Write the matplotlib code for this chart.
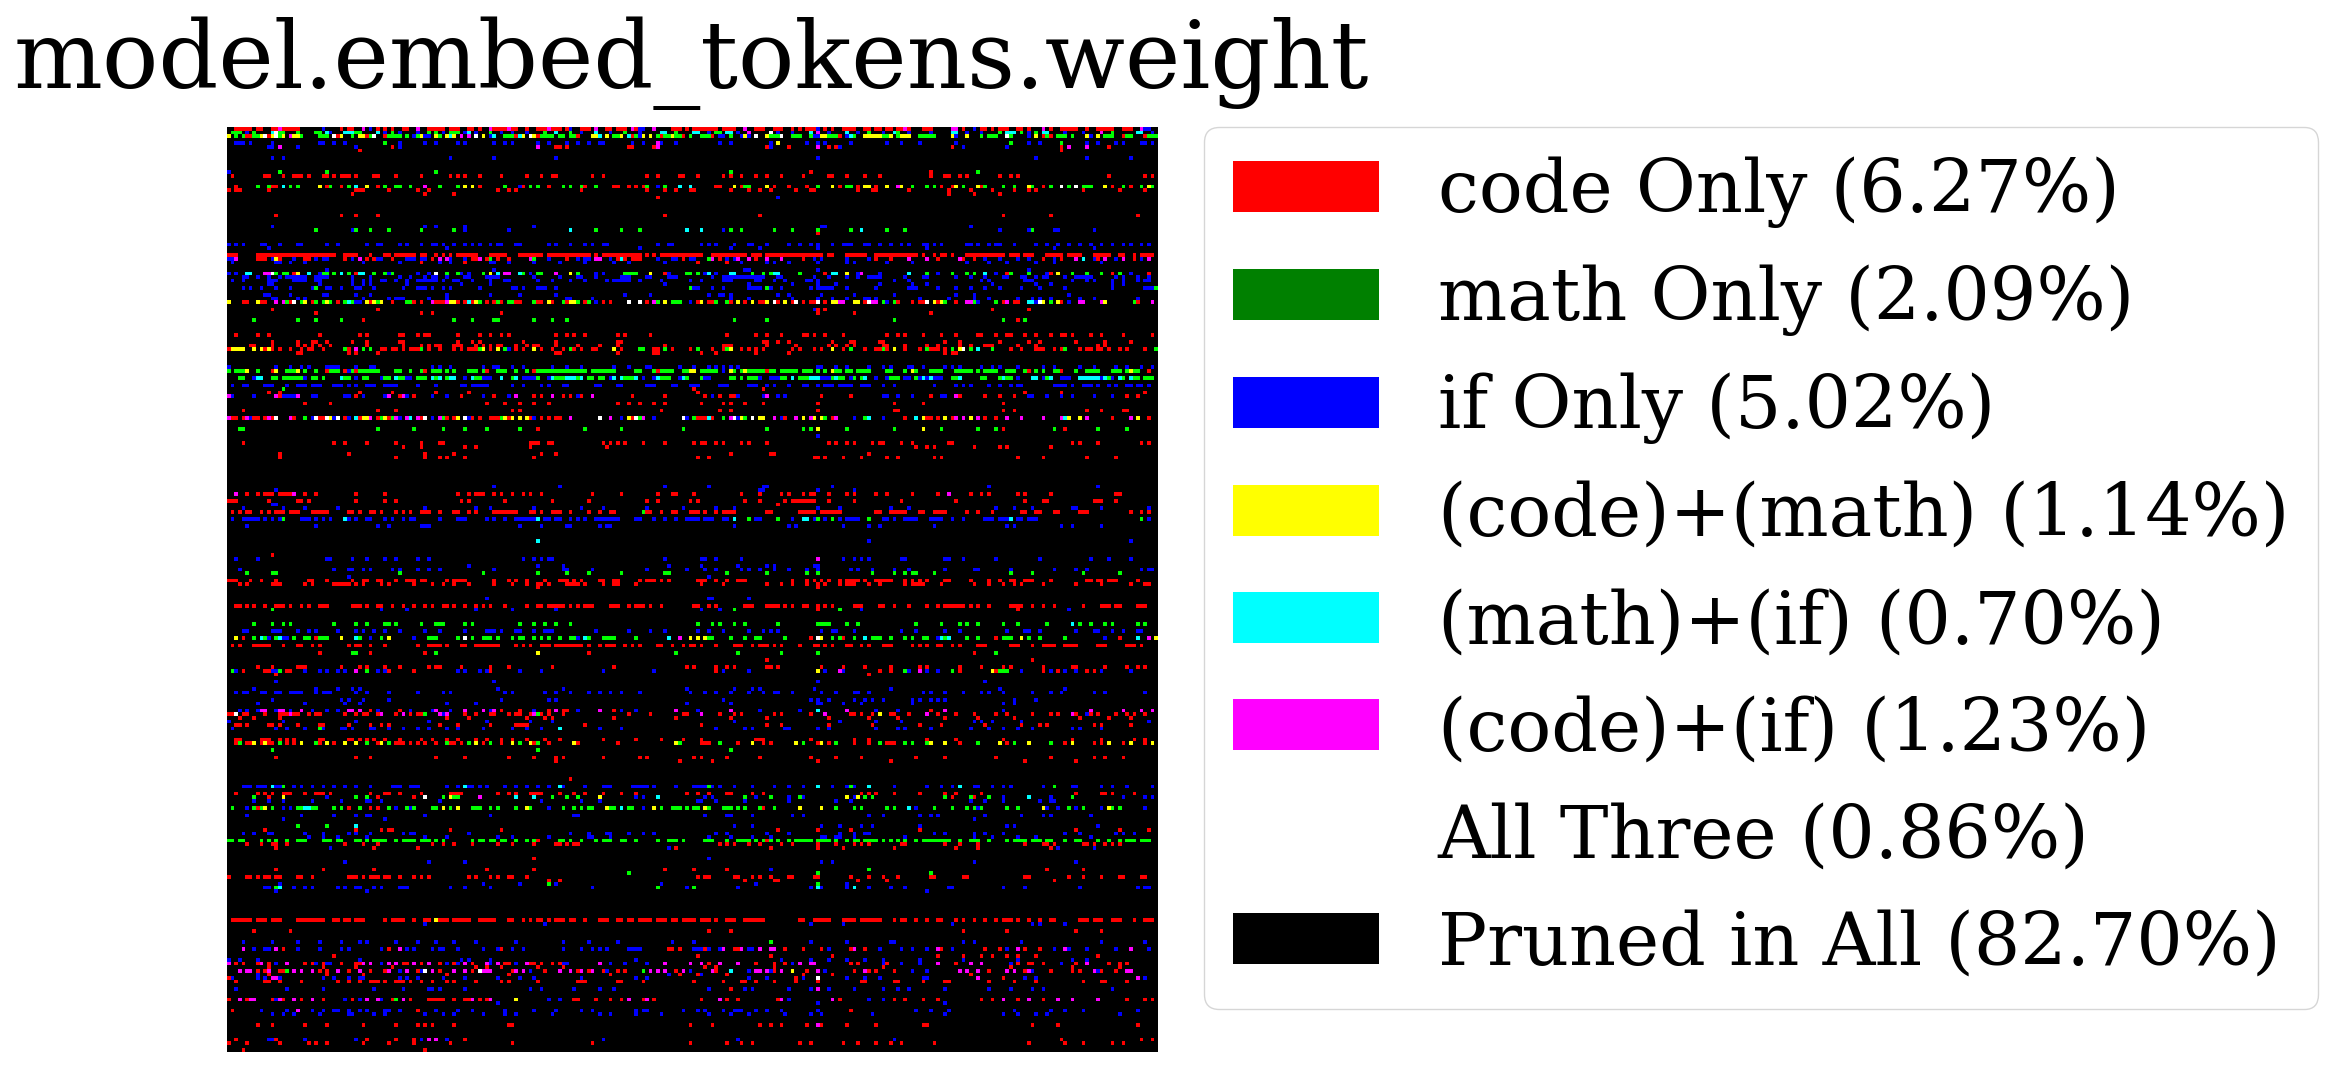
import numpy as np
import matplotlib
matplotlib.use("Agg")
import matplotlib.pyplot as plt
from matplotlib.patches import Patch

TITLE = "model.embed_tokens.weight"
LABELS = ["code Only (6.27%)", "math Only (2.09%)", "if Only (5.02%)",
          "(code)+(math) (1.14%)", "(math)+(if) (0.70%)", "(code)+(if) (1.23%)",
          "All Three (0.86%)", "Pruned in All (82.70%)"]
LEGEND_COLORS = ["red", "green", "blue", "yellow", "cyan", "magenta", "white", "black"]
CELL_COLORS = {"r": (255, 0, 0), "g": (0, 255, 0), "b": (0, 0, 255), "y": (255, 255, 0),
               "c": (0, 255, 255), "m": (255, 0, 255), "w": (255, 255, 255)}
GRID_SIZE = 256

# Each token: state, first column, optional "+run length".
RUNS = {
0: "r2+5 r8+2 r12+2 m14 r15 r16+4 b26 r31 r33+2 m37 b39 r41 r43 r45 r48 r49 m52 r55+5 r61+3 r66+2 r69 m72 r73+4 m77 r78+2 r82 r85+3 m88 r89+3 r93 b94 r97+3 m101 r104+2 r107+3 m111 r112 b113+2 m117 r122+3 r126 r128 r129+3 r132+3 r136+4 m142 r145+3 r150+3 r155 r157 r159+3 b162 r164 r166 r169+4 r175+2 r178+2 r181+2 r184+2 m186 r187 r191+3 m199+2 r202 b205 r207+2 r210 r212+3 r217+2 r220 m224 r226 r229+5 r236 r239+5 r246+3 m251 b252+2",
1: "g1+3 b5 g7 c12 w13 g14+2 g19 g24+2 c27 b28 c32+3 g35+2 b43 c41 g45 b47 b52 g55 g57 b59 g61+3 b65 c66 b68 g72 b75 b78 b82 g87 c90 g94 b97 c101 b105 g109 b113 g119 c119+2 g123 c128 c129 b132 g134+2 c137+2 b140 m143 w149 b151 b155 c160 m162 b165 c170 b173 g176 b180 g184 c183 b187 b193 c199+2 b203 b207 g212 b216 g218 c214+3 b220 g222 c224+2 b230 b235 m240 g243 c250+2 b254",
2: "y0 g2 g4 r5+2 g7+2 y9 w10 r11 y12 w13 g14 y15 m17 y18+2 g20 g25+3 w29 r30 y31 g34 y36+2 r38 g39 w40 r43 g44+4 g49 b51 g52 y53 b54+2 y57 g58 y60 c61 y62 m64 m66 w68 y70 b72 c73 g76+3 r79 c80 y81 w83 y84 r85 g86+4 g91+2 g94+2 r96 y100+2 c102 y104 g106+2 y108 c110 r111 g112+2 y114 b113 y116 g118 r119 g120+2 y122 g123+2 r125 g127 g130+3 r133 b135+2 g138 b141 y142 b143 w145 y148 g149+3 w152 g155+3 g160 b161+2 y163+2 g165+3 r168 b170 c171 g172 y175 y176+4 g180+2 y182 g184+2 y185+3 g190+4 b193 g193+2 y199 b200 y203 g207 r209 g209+3 g214+2 w214 g215 b220 y222 r224 g225 r226 g228+3 g232 y236 b237 y239 g241+3 r246 g247+2 r252 g253+3",
4: "b2+3 b6 b12 b25+2 b29 b32 g43 b47 b54 b57 b63 b65 b73 b76 b78 b85 b88 b93 b96 b99 b102+2 b111 b114 b119 b123 m118 b135 b138 b149 y151 b159 b162 b164 b171 b181 b185 b190 b200 g215 b220 b223 g229 b236 b239 b244 b246 b251+2 b254",
5: "b11+2 m14 b19 b35 r45 b47 r90 r91 m85 r110+2 r93 m118 r117 r148 b149 r154 m162 r165 r167 b168 r199 b202 b214 r229 m231 m236 r242",
6: "r36 r229",
8: "b12 b15 b61 b73 b90 b162 b222 b236 b248",
12: "g14 g27 g57 g138 r160 b0 r193 g206",
13: "r1 r10+2 r15 r18+3 r22 r26+2 r29 r31+3 r35 r40+2 r46 r53 r61 r63 r65 r69 r75 r82 r86 r89+2 r100 r103 r115 r118 r124+2 r129 r136 r138 r141 r145 r148 r152 r158 r165+2 r170 r175 r179 r193 r197 r198 r201 r203 r212 r215 r217 r242 r252 r254",
16: "r2 g8 g11 r12+2 c15 g17 g19 y25 r27 g28 r31 g33 c35 y38 r41 g43 g46+2 g50 m54 g58 g63 y65 y67 r69 g76 b80 r81 g83 g85 r88 g92 g94 g97 r98 g101 r106+2 r110 r112 r114 g115 b118 g120 c124 c127 r134+2 y139 r141 g142+2 y148 r150 r154 r159 b162 g162 y166 r168 g170+2 r173 y175 y176 r178 y181 m184 y185 g188 g192 g194 r196 y200 g202 r199 y206 r207 g208 g213 g216 y220 g221 r224 g226 w229 g231 w233 g235+3 y241 r243 g246 r248 g251 y253 g254",
17: "r0 r2+2 r11 r35+3 r44 r52 r55 r74 r77 r79 r97 r115 r120 r123 r127 r128 r138 r143 r146 r149 r156 r160+2 r173 r177+2 r187 r198 r204 r210 r216 r220 r222 r235 r245 r252",
18: "r34 r54 r62 r198 r205 r212",
19: "r118 b151",
24: "r13 r31 r35 r41 r120 r146 r213 r226 r250",
27: "b12 b54 b57 b65 b84 b163 b164 b204",
28: "g24 b34 g35 g39 g44 g53 g62 b65 b77 c94 g101 g108 g113 c126 c130 b136 g138 g141 g150 g155 g162 g171 c174 g181 g186 b212 b220 g221 b227 b228 b238",
29: "r162",
32: "b0 b2 b4 b9+2 b14 b19+2 b27 b30 b38 b41+2 b47 b49 b53 b56+2 b59 b62 b65 b67 b69 b72 b74+2 b79+2 b88 b90 b94 b98 b100 b103+2 b118 b121+2 b130 b132 b134 b139 b143+2 b148 b154 b157 b160 b162 b166 b169+3 b175+2 b179 b182 b185 b187 b191+2 b194 b196 b203+2 b206 b209 b211+2 b216 b222 b225 b228 b231 b234 b237 b240 b243 b246 b248 b251 b253",
33: "b11 b60 b113 b138 b146 b162 b192 b227 b238",
35: "r0+3 r8+22 r32+4 r39 r43+2 r46+6 r53+2 r57 r59 r61 r63+4 r67+2 r72+5 r80+7 r88+5 r93+7 r101 r103+11 r115 r117 r119+11 r127+4 r133+10 r144+3 r148+3 r151+3 r154+4 r158+3 r161+3 r165+2 r170+5 r175 r178+12 r191 r194 r196+2 r199 r203+4 r207+4 r211+3 r215+3 r219+3 r225+5 r231+4 r238+5 r245+2 r249 r251+4",
36: "b0+2 m2 r8+3 b12 y13 r14 b18 r21+2 b24 b26+2 r32 b34 m36 r38 r40 b41+2 m45 r45 b49+3 b53+2 r56 m58 m60 b61 b65 r67+3 m69 r71 g72 r74 r77 m83+2 g84 b88 r93 b96 b98+2 m101+2 b105 r107 c108 r109 b113 r111+3 b118 b122+2 r125 b127+2 m132+2 g132 r135 b137 m140 m143 r145 m148 m152 b139 r158 b161 b163 b170 b176 r178 r182 m187 m192 r195 r202 m201 r205 b208 b212 b217 b220 r224 b227 r229 m233 m235 c235 r239 r241 m241 b244 b238 m246 r249 b251 m253",
37: "b1 b13+2 b17 b21 b37 b47 r53 b58 b61 r65 b72 b73 b77 b84 b91 b98 b106 b110 b120 r129 r137 b141 b148 b150 b154 b162 b170 b172 b181 b188 b203 b209 b214 b222 b227 b240",
39: "b27 b73 b162 b142+2 b220",
40: "b0 b2 c5+2 m10+2 w12 g13 g15+2 r18 y19 c22 b25+2 g26+2 g29 c31 g33 r35 y36 c36+2 b44 g40 g43 g45 b52 b55 b57 g60 w57 r63 b64 g63 b66 g70 b72 y72 c74 g76 m76+2 g80+2 c80 b83 g85+2 m90 r94 y94 g96 b101 b103 g109 y116 b121 g110+3 w120 g126 r120 g127 g129 g129 b131 c132 b134 c138+2 g144 g147 g149 c150 c151 g157 r164 c166+2 y170 b173 m174 b179 c187 g192 b195 g199 g203 g205 c208 b211 r214 g215 c220 g220 r226 b225 y228 g232 g236 g240 r243 g245 b248 r253",
41: "b4+2 b8 b11 b14 b16+2 b18+4 b24+4 b34 b39 b47 b50 b54 b56+2 b60 b65+2 b71+4 b84 b91 b96+2 b101 b108+3 b115+2 b121+3 b133 b136 b137+8 b145 b146+2 b151 b152 b161 b165 b170 b173 b176+4 b186 b191 b192 b200 b204 b208 b213+2 b218+2 b222 b224+2 b230 b233+5 b244 b246 b250 b253",
42: "b1 b4 b11+3 b18+4 b24+2 b34 b37 b39 b42+2 b46 b49 b52+6 b59 b62+2 b67 b72 b76+2 b85 b89 b94 b98 b104 b106+5 b113 b119 b127 b130 b136+3 b145 b146 b150 b153 b159+2 b162 b183 b187 b207 b209 b219 b220+2 b232 b236 b238 b243 b246 b250 b252+2",
43: "b11+2 b25 b34 b37 b39 b49 b64 b72 b120 b143 b155 b162 b167 b179 b188 b192 b210 b222 b226 b243 b246",
44: "b4 b6 b9 b13 b17 b23 g24 b27+2 b31 b35+2 b40 b48 b52+3 b56 b59 b61 b69 b78+2 b81 b85+3 b90 g127 b128+2 b133 b136 b143+3 b146 b149 b152 g148 b152 b160 b162+5 b170 b178 b187+3 b195 b200 b204 b208 b212 b218 b223 b230 b243 b252+3 g255",
46: "b10+2 b17 b26+2 b35 b39 b60 b72 b80 b90 b109 b116 b132 b135 b136 b138 b154 b151 b163 b172 b183 b200 b205 b231",
47: "b12+2 b19 b21 b37 b44 b46+3 b55 b60 b93 b94 b100 b138 b143 b155 b162 b166 b170 b175 b176 b178 b190 b198 b205 b209 b217 b221 b223 b226 b234 b238 b250",
48: "y0 r4+2 y8 r9+2 m13 m15 r17 g16 y18 w18 g20 y21 r23 g24 g26 y27 g28 r30 g32 c33 g34 b35+2 y38 r39 y40 g41 y42 r45 g49 r51 g50 r53 m56 r57+3 m60 y61+2 r63 r65 c66 r67 y68 g69 r71 r73 g74 r75 g77+2 r79+2 g84 r85+2 y88 r89 g92 r93 y94+2 g96 r98 g99 b101 r103 r105 r105 w110 r113 w113 r115 m117 g118 y120 g122+3 r127 r129 b127 y130 r132+2 g134 g137 r138 r140 r142 y140 y144 r146 r147 y148 w150 r151 y153 r155 r158 r160 w156 r158 r160+3 b162 w162 r164 y166+3 m168+2 y172 r173 y173 r175 b177 w176 m177+2 g180 b181 r184 g183 r188 r190 r191 w192 y194 r195 y196 w197 m203+2 r200 g197 g205 r213 r216 g211 y206 b206 m214 m217 r217 r220 g221 b222 c220+2 g223 y228 g226 w223 b231 y229 m240 m234+2 y241 r229 g226 y224 r250 g249 m254",
50: "r12 r41 r162 b161 r164 r210 r220",
51: "r24 r53 r56 r75 r162 r172 r193",
53: "g7 g19 g24 g31 r37 g62 g67 g73 g74 g84 g89 g93 g139 g148 g183 g213 r217 g219",
57: "r2 r8 r11 r25 r36 r38 r47+2 r52 r54+2 r63 r69 r72 r75 r77 r90 r93 r95 r98 r107 r109 r116 r137 r145 r148 r152 r158+2 r161 r164 r169 r181 r184 r186 r191 r196 r200 r206 r207 r211 r214+2 r219 r222 r226 r229 r230 r232 r237 r240 r246 r254",
59: "r12 r19 r23+2 r27 r34 r38 r47+2 r63 r67 r69 r81 r90 r107 r108 r147 r148 r151 r154 r166 r171 r172 r179+2 r197 r201 r212 r233 r241 r248 r220 r223",
60: "r6+2 r12 r19 r21 r23 r25 r28 r38 r48 r53 r55 r57+2 r62+3 r68 r70 r72 r74+2 r79 r82 r84+2 r90 r96 r102 r107 r120 r136 r137 r138 r148 r156 r165 r167 r170 r172 r180+2 r186 r192 r195 r201 r204 r208+3 r217 r222 r239 r241",
61: "r0 y1+4 y7 y9 r10 y11 r12 r14 r17 r20 r22 r23 r26 g32 r33 m35 g37 g39 r42+2 r45+2 r48 r50+3 g53 r55 r58 r62 r64 r66+3 g69 y70 r72 y74 g76 b77 r79 r81 y84 r86 r89 r92 g94 r95 r97 r100+2 y106 r108 g113+2 r117+2 g120 r122 r127 g129 g129 r133 r136 y138 g137 r141 r143 r145 r147 r155 r157 r161 r163 g166 y166 r169 g171 r175 r178+2 r180+2 r183 r186 y183 g180 r190 g192 r193 r194 r195 r197 r199 g199 y201 g204 w202 r206 c206 g210 r215 r218 r222+3 r227 r229 g230 r234 r236+2 r240 r242 r247 r245 r252 g255 r239",
62: "r19 r20 r33 r35 r41 r91 r107 r117 r90 r118 r130 r134 r145 r154 r197 r200 r199",
66: "b0 b13 b17 b20 b22 b27 b28+3 b35 b39+2 b56 b58 b61 b70 b73 b74 b78 b81 b89 b93 b97 b106 b110 b115 b116 b124 b134 b136 b128 b132 b138 b140 b162 b163 b167 b170 b176 b182 b180 b187 b188 b191 b197 b199 b201 b207 b210 b212 b217 b224 b227 b234 b238 b244 b247 b251 b254",
67: "g0 g2+3 y5 g8 r12 y13 g16+3 y19 g21 g24 r27 g28+3 r32 b33 g34 r35 g36+6 g46+2 g50 g53 r54 g56+3 g60 g62 g66+3 g70 r71 g74+3 g79 g82 r84 g85+3 g88+4 g92+7 g100+7 g112+2 g117 r118 y127+2 g119+4 g125+2 g130+5 b136 y138 g139 g141 y142 g143+5 r148 g149+2 g152+5 g158+3 g162 g164 y166 g167+2 g170+2 g173+4 g181+2 g186 y188 g189 g193+4 g200+5 g206 g208+4 g214+3 g219 r220 g222 g224 g227+2 r229 g233 g236+4 g243+3 g247 y248 g249+2 r253",
69: "g3+2 b7 g8 c8+2 g12+2 g15+6 b21 g23+2 g26 c31 g32+2 b35 g37+2 b42 g43+2 c46 g47+2 b49+2 g52+3 c56 g57 c58 g60 c61+2 b65 c67 g68+2 b70+3 c75 g78 c79 b81+4 g85 b88 c89 g90+3 c93+3 g96 c97 g99+2 g102+2 b105 c106 c108 g109+3 c112 b114 b117 c118 g119+3 b124 c125 g126 g130 b131+2 g138+2 g141 g143+3 b146 b149+3 g152+2 c155 g157+3 c160+3 b163+3 g166 c167 g168+2 b171 g172 g174 c175 b178 b181 g182+3 b186+2 g189 b190 c191 b192 c193 b194+3 g199+2 c201 g207+2 g212 c213 g214+2 b217 c221+2 b224 g225 c226 b229+3 c234+6 b240 c241 g242 b243 c245 g246 c248 g249 g250 g252+3",
71: "b1 b4+2 b10+3 b16 b19+3 b23+3 b29+3 b33 b35 b38+3 b43+4 b52 b57 b64 b65 b67+5 b78 b81 b86 b88 b92+2 b101 b102 b107+2 b115+3 b122+2 b127+3 b135+3 b143+3 b148 b150 b154 b158+2 b162 b164+3 b168+4 b174+3 b180 b183 b194 b200 b202 b204 b209 b212 b215 b217+2 b227+4 b232 b235+3 b237 b239 b242 b244 b247+2 b250+2 b253",
72: "g15 r128 r147",
73: "r11 r14 r36 r45 r57 r66 r129 r219 r229 r252",
74: "m0 b1 b7 m13 r14 b15+3 b18+2 m19 b23+2 b32+2 r35 b37 b43 m44 r47 m48+2 b49 r51 b56 b60 r64 b70 r73 b77 b79 m79 r84 r86 m89 r92 r94 b96 r97 r100 m100 r111 r120 r131 b133 r135 r138 b139+2 b147 b153 m148 r139 b151 r171 r163 b180+2 b184 b188 r193 b196+2 m200 r201 r208 r212 r216 b220+2 b225 b229 b232 b238 r247 b243 r250",
76: "r21 r28 r142 r191 r138 r162 r71 r76 r80 r84 r88 r107 r110 r113 r117 r120 r130 r136 r147 r183 r213",
78: "r4 r41 r46 r78 r80 r119 r135 r138 r162 r183 r184 r213 r216 r236 r240 r246+2",
80: "m0 r1+2 r4 m5 b6 r7+2 r10 m11 r12 w13 m17 r18 g21 w24 b23 r25+2 w27 y28 b29 w30 r32 b33 c35 r36 y37 y38 m39 r41 g42 y43 r44 g45 r46 m46 b47 m49 c50 m52 r53 w54 b56 m58 g59 r60 r62 y63 w65 b66 r67 r69 r72 r73+2 g75 y76 r77 y78 y80 y82 r83 b84 r86 r88 r90 r91 m94 w102 m105 b108 y110 g113 r111 b117 w112 m114 g125 w125 b126 y128 m129 r129+3 g128 y132 c132 r130 m138 r133 r133 b140 g136 r139 w139 y141 g142 w144 y146 y147 m150 b152 r153 m156 m158 m160 y161 m160 y158 m163 y164 r166 g164 y163 m167 b172 g175 c176 b180 r186 c189 y191 r192 r193 r195 y197 r199 m200 m202 y204 m206 r208 r211 m214 m218 c230 m224 y231 y234 m229 m236 r243 y248 m248 y250 r253",
83: "g3+2 g41 g51 g59 g65 g71 g80 r85 g98 g108 g125 g148 g158 g160 y162 g170 g183 y191 g196 g206 g211 r213 g227 r230 g239 g247",
85: "b162",
87: "r4 r29 r32 r38 r46 r53 r58+2 r83 r84 r85 r88+2 r103 r105 r107 r109 r114 r120 r128 r130+2 r134 r136 r141 r143 r148 r165 r167 r170 r172 r177 r179 r180 r185 r188 r198 r199 r232 r234 r239 r251 r253",
88: "r48 r53 r65 r68 r83 r104 r189 r192 r194 r205 r212 r214 r226",
90: "r14 r33 r54 r62 r86 r90 r138 r149+2 r176",
91: "r14 r54 r46 r58 r60 r65 r84 r129 r132 r161+2 r164 r169 r174 r181 r184 r194 r196 r217 r224 r236 r244",
99: "b73 b91 b120 b132 b147 b148 b166 b209 b239",
100: "b13 b162 b172 b146 b147",
101: "m2 r5 r8 r10+3 r14+4 m18 r21 r24 r35 r43 r63 r66 r68+3 r73 r75 r78 r81 r83 r86 r100 r108 r118 r122+2 r128 r141 r146 r152 r154 r158 r160+2 r165 r172 r170 m198 r178 r181 r188 r195 r204 r207 r209 r217 r219 r226 r244+2",
103: "r0+3 r11 r19+2 r22 r35 r43 r46 r64 r66 r76 r89 r99 r115 r118 r127 r129 r142 r146 r153 r155+6 r161 r165 r172 r185 r200 r219 r240 r244 r224+2 r238+2",
104: "b12 r151 b13",
105: "b4 b15 b21 b30 b54 b68 b72 b84 b97 b103 b115 b125 b139 b134 b162 b168 b182 b187 b216 b221 b233 b240 b253 b211 b232",
106: "r1 r3 r5+2 r9 r11 r13+3 r17+3 r23+5 r33+2 r36 r39+2 r42 r46 r48 r50 r53+3 r58 r62+2 r66 r68 r73+7 r83+2 r86 r89+3 r94 r99 r102 r105+2 r114 g114 r115+2 r119 r122+2 r127+3 r131 r134 r136 r136+4 r148+2 r157+5 r163+6 r178+2 r182+5 r190+2 r194+4 r203 r206 r210 r218+2 r222+2 r227+2 r234+3 r248 r251 r253",
108: "b1 b4+5 b10 b12 b14 b20+3 b24 b26 b28 b33 g15 c32 b35 b38+2 b43 b45 b48 b50+2 b58 b63+3 b71 b73 b76 b79+6 c85 b87 b88 b90+2 b94 b96 b98 b101+7 b112+2 b117 b120 b123 b126 b127+3 b131+3 b136+2 c139 g143 b145+2 g151 b155 c158+2 b161 g162 b164 g166 b168 b170+4 g176 b180+2 b183 b186+4 b193+3 b194+3 b199 b202 b208+3 b212+3 b217+2 b220 c215 b222 b218 b221 g251 b253",
110: "b5 b24 b41 b44 b53+3 b80 b86 b93+2 b102 b104 b105 b139 b154 b156 b169 b176 b179 b194 b214 b216 b229 b232 b240",
114: "c85 b176 b248",
118: "r12",
119: "b2 b8 b27+2 b34 b38 b43 b46 b52 b55 b81 b84 b86 b88+2 b120 b130 b131 b134 b141 m162 b169 b172 b174 b176 b185 b186 b197 b198 b202 b211 b223 b237 b242 b248",
121: "b66 b85 b92 b121 b130 b140 b148 b150 b161 b162",
122: "b3 b29 b33+2 b37 b39 b45 b47 b52 b55 b58 b73 b92 b93 b100 b115 b126 b131 b134 b141 b143 b146 b150 b154 b159 b162 b171 b173 b177 b183 b187 b197 b205 b206 b215 b227 b233 b236 b251 b253 b254",
123: "g5 g12+2 g47 g70 g85 g93 g99 g108 g120+2 g137 g148 g159 g177 g183 g186 g189 g194 g215 g221 g235 g245 g162 g188 g245",
124: "b33 b132",
125: "r0+3 r6 r9 r13 r22+2 r27 r34 r37+2 r41 r42 r46 r49+3 r53+2 r60 r62 r62+4 r73 r77 r79 r82 r87 r91+3 r95 r97 r102 r103 r106 r107 r113 r115+3 r119 r121 r129+3 r131 r134 r137 r140+3 r155 r159 r161 r163 r165 r168 r170+4 r175 r178+3 r181+2 r186 r188 r190 r192 r197 r198 r204 r209 r212 r215+2 r219+2 r221 r226 r240 r236+2 r239 r243 r242+3 r250",
126: "r3 r5 r12+3 r21 r23 r29+4 r33 r35 r37 r42 r44 r51 r56 r59 r62 r66 r73 r78 r82 r85+2 r88 r93+3 r96 r98 r103 r106+2 r112 r130 r136 r148 r152 r155 r159 r162 r164 r168 r170+3 r176 r179 r186 r188+3 r190+2 r196 r205 r209 r213 r216 r218 r224 r233 r240 r248 r252+2",
127: "r85 r162",
130: "b71 b132 b133 b143",
132: "r2+2 r5 r7 r10 r13+3 r17 r20 r22 r25+3 r34+3 r38 r41+2 r45 r48 r51 r54 r56 r59+2 r62 r65 r68 r70 r72 r76 r82 r85+2 r88+5 r94 r96 r98+3 r105+3 r110 r112+3 r116 r119 r128 r129 r132 r134 r142+3 r148+4 r153 r155 r158+2 r162 r164 r166 r172+3 r179+2 r183 r187 r192 r195 r197+6 r204 r206 r209 r215+4 r221 r224 r227 r235 r240+3 r245 r244 r250+3",
133: "g12 b42 b49 b68 b78 g139 b90 b135 r162 b130 g168 b174 r217 b231 b231",
137: "g7 g12 g15 g17 g29 g35 g38 g43 g44 g46 g53 g57+3 g65 g67 g80 g84 g87 g90 g94 g129 g133 g135 g139 g142 g151 g164 g162 g163 g165 g170 g173 g189 g196 g201 g203 g206 g213 g217 g225 g234 g237 c232 g241 g243 g250 g252",
139: "b4+2 b12+3 b19 b22 b24 b30 b35 b37 b40 b43 b47 b54 b58 b65 b71+2 b73 b75 b79+2 b84 b87+3 b101 b110 b116 b120 b129 b132 b136 b143 b147 b149 b151 b163 b166+2 b172 b185 b189 b197 b201 b214 b219+2 b223 b233 b238+2 b243 b246 b250 b251",
141: "y2 r4 g7 c9 g10 b11 g13 c14 b15+2 g18 g21+2 r24 g25+3 y31 c35 g36 b39 g42 y44 b51 g55+3 g63 w65 g67 g70+3 g74 g78 g80+2 g84 g86 g88 g91 g94 g95 b96 c98 g99 g103+4 g112 c121 m124 y127 r129 r129 y129 y131 b132 g132+2 g138 g142 g145+2 g153 y169 w162 y163 r160 g166 g168 r169 y172 c175 g172 g177+3 g182 g186 g188 g191+2 g197 c198 g203 g203 g206 c196 b195 b213 r211 g213 g214+2 y218 g220 g223 g230 b241 r245 c250 m253 y255",
143: "r1 r3 r7+5 r15 r19+2 r23 r25 r33 r35+2 r39 r43 r52 r55+4 r60 r64+2 r68+6 r74 r79 r81 r83 r86+3 r90+8 r99 r102 r104+3 r109 r111 r113 r118+2 r122 r125 r127+2 r130 r134 r139+3 r144 r146+3 r150 r152 r157 r161 r162 r164 r166 r170+2 r174 r176 r180+3 r188 r190 r192 r195+2 r199 r201 r206+3 r215+3 r221 r224+2 r226+2 r230+4 r239+3 r247 r248+2 r251",
145: "r25 g34+2 r39 r54 g57 r85 y85 r99 g123 g140 g152 g162 r205 g211",
147: "r148 r221",
149: "r8 r12 r19+3 r31 r36 r38 r43 r47 r55 r57+2 r64 r72 r77 r89 r106 r126 r128 r134 r137 r139 r148 r149 r151 r163 r169 r175 r182 r190 r192 r201 r207 r213 r215 r224 r232+2 r241 r247 r250 r252",
150: "g1 b2 r4 r10+2 b12+3 r16 g14 r17 b21 b25 b27 b30 b32 m35 g38 b41 b43 r44 r51 b63 b65 b69 b71 r72 b80 b86 b103 b117 r134 b136 b143 y162 b164 m168 b169 r179 r182 g186 m190 b187 b192 b195 g199 r201 g212 g214 y210 r211 g213 b226 r224 r228 b230 b233 b218 r236 b240 r238 b248",
151: "r13 r176",
153: "b13 b73 b162 b208",
155: "b7 b24 b30 b34 b36 b74 b92 b126 b139 b144 b146 b161 b182 b212 b230",
156: "b2 b4+2 b9+2 b13+2 b17 b18+3 b24 b26+3 b35 b38 b44 b52 b59 b61 b76 b78 b87 b90 b94 b99 b102 b105 b108 b113 b127 b131 b134 b138 b143 b147 b150 b151 b155 b163 b167 b172 b176 b173 b191 b193 b197 b202 b207 b209 b213 b221 b226 b229 b238 b241 b252",
158: "b12 b31 b33 b37 b44 b75 b88 b90 b136 b160 b162 b165 b172 b175 b177 b180 b188 b190 b193 b195 b197 b216 b222",
159: "b8 b21 b32 b36 b60 b68 b126 b138 b162 b163 b174 b213 b216 b169 b188",
161: "b3 b5 b8 m9+2 b13 m14+2 b17 m20 b23 b27 b30 m33+2 m36 r39 b41 r47 b50 b56 m57 b61 m65 m70 m73 r75 b72 r80 b84 r88 m90 r92+2 b96 m102 r106 b108 b112 m123 b129 m138 b146 b157 m162 c162 m170 b178 b184 r193 m197 b213 m237 m246 m251 m254",
162: "r0+2 w2 r4+2 r10 r14+3 r18+2 r22 m17 r24+2 r32 r38 r35 r37+2 r41 m42 r46 r50 m42 m48 r52+2 g54 m58 b59 m60 r65 r68 r72+2 r79 r77 r83 r86 r88 r92 m84+2 r77 r80 g85 r110 r116 r125 r126 r135 m130 r139 r141 r150 r152 r160 m164 r171 r172 r174 r177 r182 r183 r187 r192 r195 r200 r205 r211 r214 m192 y179 r221 r226 r228 r233 r237 r239 m232 b236 r244 r247 r249 r252",
163: "r3 r7 r14 r60 r66 r82 r87 r89 r106 r123 r138 r148 r165 r176 r184 r197 r206 r216 r234 r242 r248",
164: "b0 b15 b35 b55 b71 b83 b89 b139 b168 b178 b185 b205 b207 b210 b218 b253",
165: "r2+2 r5 r11+2 r14 r19 r25+2 r33 r39 r42 r44 r58 r63 r72 r79 r80+3 r82 r98 r130 r148 r152 r165 r177 r190 r196 r208 r218 r223 r225 r238 r240 r248",
166: "b1 b13 b16 b21 g25 b26 b31+2 b34 b39+2 b44 b48 b52 b55 b60 b63 b70 b78 b82 b86 b91 b102 b108 b134 b142 b144 b153+2 b162 b184 b193 b204 b217 c91 b165 b178 b186 b209 b213 b221 b232 b240 b234",
169: "r2+2 r9+3 r14 r16 r18 r25+2 r33+2 r36 r38 r40 r43 r47 r53 r56 r60 r63 r68 r71 r75 r78 r82 r87 r91 r103 r112 r119 r125 r130 r145 r146 r147 r160 r172 r176 r192 r200 r213 r232 r240 r249 r252",
170: "r2+2 g3 r5+3 y7 r9 y10 r11+2 g14 r16 r18 y20 g24 r25 y27 r29 y32 y35 g38 r41 y42 g44 r46+3 r50 r52 r54 r57 g60 r61+2 r64 y66 g66 r70 r72 y68 g72 r75 y78 r80 g80 r84 r88 r96 y83 y95 r107 y123 g85 g124 r130+3 g135 r140 y144 r147 r149 r156 y156 g158 r162 y163 r165 g167 r172 r176 r179 g179 r181+3 g186 g188 g192 y193 y197 r201 g206 y212 r214 g216 r220 y220 g226 r230 y232 r238 r240 y242 r246 y248 y254 r252",
172: "g12 g85 g138",
174: "r13 r35 r39 r57 r65 r77 r84 r90 r92 r103 r113 r115 r128 r130 r137 r146 r160 r167 r174 r189 r197 r211 r226 r238 r241 r246",
175: "r90 r124 r133 r162 r182 r219 r233",
180: "r94",
182: "b4+3 b8+3 c12 b13+2 g15 b18 b20 b23 b26 b29 b32 b35 b39 b45+3 b50+3 b60 b63 b66 c65 b67 b69 b71 b76 b79 b82 b85 b88 c91 b92 b98 b103+3 b111+5 b117 b123 b128 b129+3 b133 g132 b135 b139 b144 b150 b154 b158 b162 c162 b166 b170 g171 b172 c176 b183 b192 b196 b199 b205 b206 b210 g213 b213 b215 c201 b224 b232 b233 b240 b247 g227 b243 b254",
184: "r2 r8 r10 r12 r15+3 r17 r21 r24+3 r28 r39 r43+2 r47 r53 r61 r62+3 r74 r77 r84 r79 r86 r91 r95 r83+4 r98 r103 r108 r112 r126 r129 r132 r137+2 r144 r147 r174 r176 r178 r183 r200 r190 r197 r207 r233 r240+2 r243 r249",
185: "g7 r11 y15 b27 r38 r41 g35 g38 r51 w54 g59 g62+2 y61 m69 c79 c84 b89 y102 y170 g89 g93 g96 b112 b114 g118 c118 b131 b133 g142 b145 g149 b154 b158 g157 b172 g175 g177 y173 g197 g204 r199 g209 r205 c220 b213 g232 b226 b246 b252 b254",
186: "b7 b11 b15 b23 b31 b38+2 b42 b58 b86 b102 b97 b129 b130 b134 b142 b154 b167 b171 b204 b208 b223 b213 b226+2",
188: "g1 b5 g7 r8 g9 y10 g12 b15 b17 g19+2 c21+2 g23+2 g29 y31 g31 r33 g36 r39 r41 g44 b46 g49 b50 g51 g56+2 y59 g61 y63 g67+3 g72 g74 g79 y82 g83 b88 g92 g95 g97 g99+2 g105+2 g110 y104 c108 g111 y117 b114 g119 g122+3 g126 g132 g128 g136 g129 y131 g137+2 g140 g142 g146 g150 r147 y157 y163 g167 g172 g174 g183 c187 g181 b189 g194 g199 g203 g205 g207 g214 g217 g224 b206 y224 g228 g231 b225 g235 b228 b233 b240 g243 y242 g245 b252",
190: "b5 b20 b29 b35 b38 b39 b54 b72 b95 b96 b131 b137 b144 b138 b155 b158 b176 b180 b190 b195 b193 b208 b218 b224 b226 b237",
191: "b15 b43 b205",
193: "g19 g27 c35 b139 b144 b168 b174 b177 b190 b214 b216 b239 b163",
194: "r10 r35 r42 r44+2 r61 r75 r151 r171 r233 r245 r162 r190 r253",
195: "b4 b7 b11+2 b21 b26 b33 b35 b39 b48 b50 b51 b66 b94 b99 b104+2 b110 b114 b117 b134 b137 b148 b154 b168 b172 b175 b176 b194 b197 b205 b208 b213 b230 b234 b244 b246 b249",
196: "b22 b26 b30 b38 b54 b60 b74 b78 b88 b100 b99 b105 b132 b138 b144 b149 b163 b164 b172 b167 b168 b186 b205 b210 b217 b222 b237",
197: "g0+2 g3+2 g9 g11 g13 g16 g19+3 g26+3 g30+2 g35+2 g38 g40+4 g46 g48+4 g53+3 g57 g59 g67 g69+2 g72+2 g75+2 g79 g82 g84 r85 g91+2 g94 g97 g101 g103+3 g108+2 g112 g118 g121+3 g125 g131+3 g137 g140+4 g145 g147 r148 g149 g151 g154 g156+5 g162 g163+3 g167 g170 g172+2 g175+4 g180 g182 g184 g186 g189 g191+8 g201 g204+3 g209 g214 g216+4 g221+3 g225+2 g230 g233+2 g239 g242 g245 g247+3 g251+3",
198: "r5 r9 r12+2 r16 r32 r37 r41 r56 r59 r62 r67 r74 r78 r84 r90+2 r93 r95 r96 r139 r135 r137 r143 r146 r152 r155 r162 r167 r172 r174 r176 r186 r185 r197 r201 r206 r219 r224 r227 r236 r241 r243 r225 r245 r235 r238",
199: "r13 b28 r40 r52 r123 b121 r149 b238 r183 r200 r162 r169 r206 b228 r226",
202: "r84 b132",
203: "b32 b55 b65 b163 b166 b205 b233",
205: "r13 r26 r40 r71 r84 g176 r120 b149 r225 r235 r128 r137",
206: "g110 g162 g193",
207: "r0 r5+2 r8 r10 r11 r13+2 r19+2 r23 r33+3 r37 r39+3 r43+2 r47 r51 r53 r55 r66 r68 r72 r74 r77+2 r82 r129 r131+2 r139+2 r144 r146 r149 r154 r155 r161+2 r171 r176 r180 r184 r193+2 r202 r203 r219 r220 r231 r240 r245+2 r235 r251+2",
208: "r88 r91 r142 r150+2 r173 r181 r227",
209: "b14 g88 b70 b80 b90 b170 b145 g162 g162 b119",
210: "b10+2 g13 c14 b18 b21 b23 b30 b32 b35+2 b40 b42 b47+3 b61 b65 b72 g118 b100 b126 b140 c172 b160 b163 b170 c162 b176 b182 b186 b198+2 b213 b219 b234 b250 b252+2 g128",
211: "b13 b38 b192",
219: "r1+6 r8+3 r12+3 r19+8 r29+2 r32+2 r35+3 r43 r45+4 r51 r54+2 y57 r58+3 r62+5 r69+5 r77+2 r81 r83 r85+2 r88 r90+3 r94+2 r98 r102+3 r107+2 r110+2 r113+4 r118+3 r122+2 r125+3 r128 r130+3 r134 r137+3 r142+6 r157+2 r161+5 r169+4 r174+5 r179 r183 r185+2 r189 r192 r195+2 r200 r202 r205 r208 r211 r213+3 r217 r220 r223 r226+2 r234+3 r238+3 r243+3 r249 r252+3",
220: "b54 b87 b160 b169 b199 b223 b221 b230",
222: "r7 r17 r132 r138 r202 r214 r233 r240",
225: "b4 b12 b19 b25 b31 b36 b38 b46 b52 b57 b62 b68 b79 b92 b99 b107 b122 b128 b160 b170 b182 b183 b205 b218 g149 b202 b240 b252",
227: "m4 b7 b10+2 m13 r15 b19 b25 b31 b33 b42 r44 m47 b49 b51 b56 b58+2 b63 b70 b74 r75 b78 b81 b92 b97 b100 b102 b104 b110+3 b113 r121 r122 r124 r131 b128+3 b132 m136 b135 r139+2 b143+2 m141 m146 m149+2 r153 r158 r163 b165 m172 r171 b175 m179 b179 b185 r175 b188 b192 m195 r196 b199 r208 r212 b214 m217 r219 b227 r223 m230 b231 b236 b244 m248 r253 b253",
229: "r29 r129 r149 r166 r195 r202 r207 r210 r214 r217 r222 r239",
230: "b0 b3 b8 b36 b64 b66 b72 b112 b152 b160 b165 b170 b175 b180 b190 b202 b217 b232 b236",
231: "m0 r2 r4 r8 m9 r11 b13 r16 m16 r21 r23 b24 r26 b27+2 r31 r36 m37 r35 m39 b42 m44 m46 r48+2 b51 m51 r53 m55 r58 b60 r62 b63 m65 r67 b72 m71 m74 r77 b79 m82 r83 r76 r86 r89 r84 r91 b92 b93 m102 b105 b109 b115 m120 m127 m130 r132 m135 m140 r145 r150 b155 m157 m160+2 r153 r171 r173 b180 r181 b185 b190 m195 r200 m204 m207 b190 r217 b215 r220 r224 r221 b229 r233 m236 r242 r247 r245",
232: "r11 r26 r35 r45 r85 r92 r150 r180 r215 r232 r245 r75 r68 r71 r131 r134",
233: "m3 m5+2 r8 r10 m11 r14+2 g16 m18 m20 m23 r25 r27 m30 r33 m36 r39 r43 m44 r47 m49 r52 b53 b47 w54 m56 r58 r62 m62 m65 r67 r70 w69 m70+3 r78 m79 m81 b83 r87 m91 m94 r96 m97 r99 m100 r103 b104 r107 r109 m114 b114 g114 m116 m118 m120 r123 m125 r127 m133 r134 b143 c138 b127 m145 m148 m146 r150 r155 y155 b149 r159 m152 b162 m162 b164 r172 r176 b183 r178 m175 r183 b192 b188 m203 m201 m206 r209 m214 m216 r219 m220 b221 m226 r226 r240 b239 r232 m238 r244 m247+2 r234",
234: "b8 r11 r27 r37 r60 r77 r105 r124 r137 r158 b130 r121 r129 b121 r166 r204",
235: "r0 b1 b8 b10 m12+2 b14 b26 b29 b33 b36 b37 b47 b49 b52 b59 b65 b74 b80 b84 b97 b112 b115 b143 b148 b158 b170 b175 b179 b191 w162 r156 b192 m206 r213 b219 b222 m250 b252",
236: "r2 r10+2 r14 r20 r30 r33 r36 r39+3 r43 r46+3 r50 r53 r56 r60 r62 r68 r75 r77 r85 r96+2 r98 r107+2 r114 r136 r141+2 r128 r145 r150 r156 r162 r174+2 r183+2 r191 r197 r198 r209 r216 r222 r235 r240+2 r247",
238: "b2 b16 b26 b40 b48 b55+2 b58 b65 b83 b86 b95 b102 b106 b132 b142 b144 b154 b160 b172 b180 b187 m162 b165 r138 b184 b197 b209 b215 b221 b224 b243",
241: "r0 m3 r5 m6+2 r12 b13 m14 r15 m18 r20 m23 r26 b32 r34 b36 m38 m41 b42 r45 g46 m48 r50 r55+5 r62 r65+2 m67 r69 r71 m72 y79 m88 b88 b91 r95+2 r101 r105 r108 m110 r114 m115 r117 r130 m135 r137 r140 r151 m152 b154 m166 r168 b176 b180 r183 r186 r191 r195 r207 r210 r217 m213 m220 r224 m228 m232 m239 r247 r252 r254",
242: "b74 b162 b197",
244: "r1 b9 b16 m19 b23 b26 b29+2 b33 b36 b38 b43+2 b47 r52 b57 b63 b67 b76 b84 b90 b97 b100 b112 b114+2 b125 b129 b131 b136 b139+3 b145 b148 b152 b162 r171 b189 b193 b198 b216 b226 b230 b235 b250",
245: "b12 b15 b18 b25 b33+2 b40 b43 b54 b59 b62 b70 b76 b79 b89 b102 b105 b112 b119 b132 b138 b143 b153 b163 b160 b177 b197 b213 b217 b222 b225 b245",
248: "r8 r12 r21 r27 r37 r46 r52 r54 r56 r62 r77 r78 r127 r133 r146 r149 r152 r159 r163 m162 r170 r178 r191+2 r221 r228 r250",
252: "r2 b11+2 r13 b21 b35 r38 r46 r51 b53 m55 m57 r60 r65 b60 b103 b140 b183 r229 r251 r254",
253: "r0 r5 r14 r22 r24 r27 r37 r44 r51 r61 r78 r100 r157 r160 r169 r173 r182 r185 r194 r127 r137 r141 r144 r178 r220 r230 r243 r235 r246",
255: "r4 r54",
}

grid = np.zeros((GRID_SIZE, GRID_SIZE, 3), dtype=np.uint8)
for row, text in RUNS.items():
    for tok in text.split():
        state = tok[0]
        start, _, length = tok[1:].partition("+")
        start = int(start)
        length = int(length) if length else 1
        grid[row, start:start + length] = CELL_COLORS[state]

W, H = 2332, 1074
fig = plt.figure(figsize=(W / 100, H / 100), dpi=100)
plt.rcParams["font.family"] = "DejaVu Serif"

ax = fig.add_axes([227.5 / W, 1 - 1052 / H, 930.5 / W, 925 / H])
ax.imshow(grid, interpolation="nearest", aspect="auto")
ax.axis("off")

fig.text(14 / W, 1 - 88 / H, TITLE, fontsize=67.5, family="DejaVu Serif", ha="left", va="baseline")

handles = [Patch(facecolor=c, label=l) for c, l in zip(LEGEND_COLORS, LABELS)]
leg = fig.legend(handles=handles, loc="upper left", bbox_to_anchor=(1204 / W, 1 - 127 / H),
                 borderaxespad=0, labelspacing=0.5, borderpad=0.4,
                 prop={"family": "DejaVu Serif", "size": 52.6})
fig.savefig("out.png", dpi=100, facecolor="white")
